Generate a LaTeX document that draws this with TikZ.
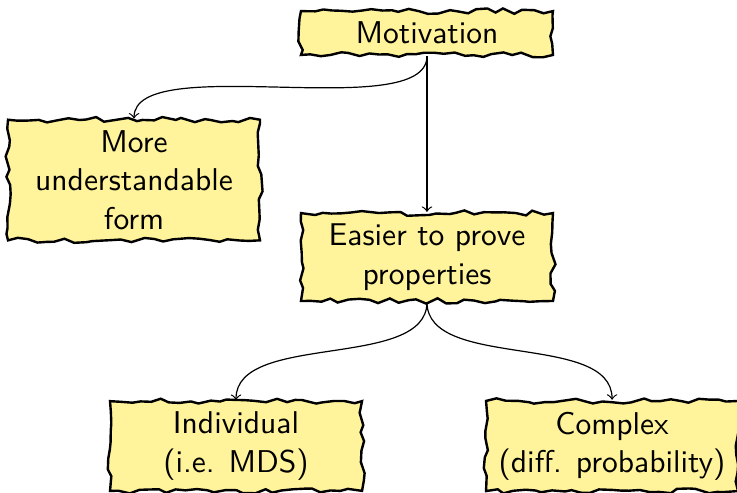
\documentclass[tikz,border=0pt]{standalone}
\usepackage{xcolor}
\definecolor{PaperYellow}{RGB}{255,243,155}
\usetikzlibrary{decorations.pathmorphing}
\newcommand*{\boxtextstyle}{\sffamily\fontsize{10.5}{12.8}\selectfont}
\tikzset{
  tornbox/.style = {draw, thick, fill = PaperYellow, align = center,
    minimum width = 84pt, inner sep = 3.6pt, font = \boxtextstyle,
    decorate, decoration = {random steps, segment length = 3.2pt, amplitude = 0.9pt}}
}
\newcommand{\bendarrow}[2]{%
% parent node, child node
  \draw[->] (#1.south) .. controls +(0,-0.8) and +(0,0.8) .. (#2.north);
}

\begin{document}
\begin{tikzpicture}
  \pgfmathsetseed{7}
  \useasboundingbox (0,0) rectangle (8.634,-5.764);
  \node[tornbox] (motiv) at (5.002,-0.387) {Motivation};
  \node[tornbox] (underst) at (1.570,-2.109) {More\\ understandable\\ form};
  \node[tornbox] (proofs) at (5.002,-3.011) {Easier to prove\\ properties};
  \node[tornbox] (indiv) at (2.765,-5.225) {Individual\\ (i.e. MDS)};
  \node[tornbox] (complex) at (7.170,-5.225) {Complex\\ (diff. probability)};
  \bendarrow{motiv}{underst}
  \bendarrow{motiv}{proofs}
  \bendarrow{proofs}{indiv}
  \bendarrow{proofs}{complex}
\end{tikzpicture}
\end{document}
